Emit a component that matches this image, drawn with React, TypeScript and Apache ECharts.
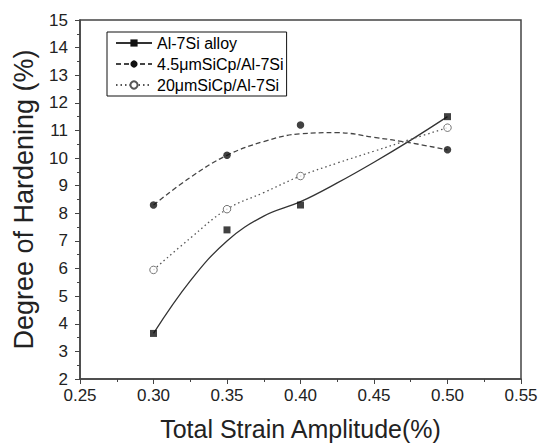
import React, { useEffect, useRef } from "react";
import * as echarts from "echarts";

// measured points
const strainAmplitude = [0.3, 0.35, 0.4, 0.5];
const al7Si = [3.65, 7.4, 8.3, 11.5];
const sic45 = [8.3, 10.1, 11.2, 10.3];
const sic20 = [5.95, 8.15, 9.35, 11.1];

// fitted curves
const fitX = [0.3, 0.325, 0.35, 0.375, 0.4, 0.425, 0.45, 0.475, 0.5];
const al7SiFit = [3.65, 5.55, 7.0, 7.9, 8.42, 9.1, 9.85, 10.65, 11.5];
const sic45Fit = [8.3, 9.3, 10.1, 10.6, 10.88, 10.92, 10.75, 10.55, 10.3];
const sic20Fit = [5.95, 7.1, 8.15, 8.75, 9.35, 9.82, 10.25, 10.68, 11.1];

const seriesNames = ["Al-7Si alloy", "4.5\u03bcmSiCp/Al-7Si", "20\u03bcmSiCp/Al-7Si"];

const FONT = "'Liberation Sans', Arial, sans-serif";
const INK = "#222";

const zip = (xs: number[], ys: number[]) => xs.map((x, i) => [x, ys[i]]);

export default function App() {
  const ref = useRef<HTMLDivElement>(null);
  useEffect(() => {
    if (!ref.current) return;
    const chart = echarts.init(ref.current, null, { renderer: "svg" });
    const lineCommon = {
      type: "line" as const,
      smooth: 0.4,
      showSymbol: false,
      silent: true,
      z: 2,
    };
    const scatterCommon = {
      type: "scatter" as const,
      z: 3,
    };
    chart.setOption({
      animation: false,
      backgroundColor: "#fff",
      grid: {
        left: 80,
        right: 21,
        top: 20,
        bottom: 65,
        show: true,
        borderColor: "#444",
        borderWidth: 1.5,
      },
      legend: {
        data: seriesNames,
        orient: "vertical",
        left: 107,
        top: 32,
        padding: [3, 3, 3, 8],
        itemGap: 5,
        itemWidth: 36,
        itemHeight: 9,
        borderColor: "#111",
        borderWidth: 1,
        backgroundColor: "#fff",
        textStyle: { fontFamily: FONT, fontSize: 16, color: "#000" },
        inactiveColor: "#ccc",
      },
      xAxis: {
        type: "value",
        min: 0.25,
        max: 0.55,
        interval: 0.05,
        name: "Total Strain Amplitude(%)",
        nameLocation: "middle",
        nameGap: 37,
        nameTextStyle: { fontFamily: FONT, fontSize: 25, color: INK },
        axisLine: { show: true, lineStyle: { color: "#444", width: 1.5 } },
        axisTick: { show: true, length: 5, inside: false, lineStyle: { color: "#444" } },
        minorTick: { show: true, splitNumber: 2, length: 3, lineStyle: { color: "#444" } },
        splitLine: { show: false },
        axisLabel: {
          margin: 8,
          fontFamily: FONT,
          fontSize: 17,
          color: INK,
          formatter: (v: number) => v.toFixed(2),
        },
      },
      yAxis: {
        type: "value",
        min: 2,
        max: 15,
        interval: 1,
        name: "Degree of Hardening (%)",
        nameLocation: "middle",
        nameGap: 43,
        nameTextStyle: { fontFamily: FONT, fontSize: 27, color: INK },
        axisLine: { show: true, lineStyle: { color: "#444", width: 1.5 } },
        axisTick: { show: true, length: 5, inside: false, lineStyle: { color: "#444" } },
        minorTick: { show: true, splitNumber: 2, length: 3, lineStyle: { color: "#444" } },
        splitLine: { show: false },
        axisLabel: { margin: 12, fontFamily: FONT, fontSize: 17, color: INK },
      },
      series: [
        {
          ...lineCommon,
          name: seriesNames[0],
          data: zip(fitX, al7SiFit),
          symbol: "rect",
          itemStyle: { color: "#111" },
          lineStyle: { color: "#333", width: 1.3, type: "solid" },
        },
        {
          ...lineCommon,
          name: seriesNames[1],
          data: zip(fitX, sic45Fit),
          symbol: "circle",
          itemStyle: { color: "#111" },
          lineStyle: { color: "#444", width: 1.3, type: [5, 3] },
        },
        {
          ...lineCommon,
          name: seriesNames[2],
          data: zip(fitX, sic20Fit),
          symbol: "emptyCircle",
          itemStyle: { color: "#555" },
          lineStyle: { color: "#555", width: 1.3, type: [1.5, 3] },
        },
        {
          ...scatterCommon,
          name: seriesNames[0],
          data: zip(strainAmplitude, al7Si),
          symbol: "rect",
          symbolSize: 7,
          itemStyle: { color: "#111" },
        },
        {
          ...scatterCommon,
          name: seriesNames[1],
          data: zip(strainAmplitude, sic45),
          symbol: "circle",
          symbolSize: 7.5,
          itemStyle: { color: "#111" },
        },
        {
          ...scatterCommon,
          name: seriesNames[2],
          data: zip(strainAmplitude, sic20),
          symbol: "circle",
          symbolSize: 7.5,
          itemStyle: { color: "#fff", borderColor: "#555", borderWidth: 1 },
        },
      ],
    });
    return () => chart.dispose();
  }, []);
  return <div ref={ref} style={{ width: 542, height: 446, position: "absolute", left: 0, top: 0 }} />;
}
